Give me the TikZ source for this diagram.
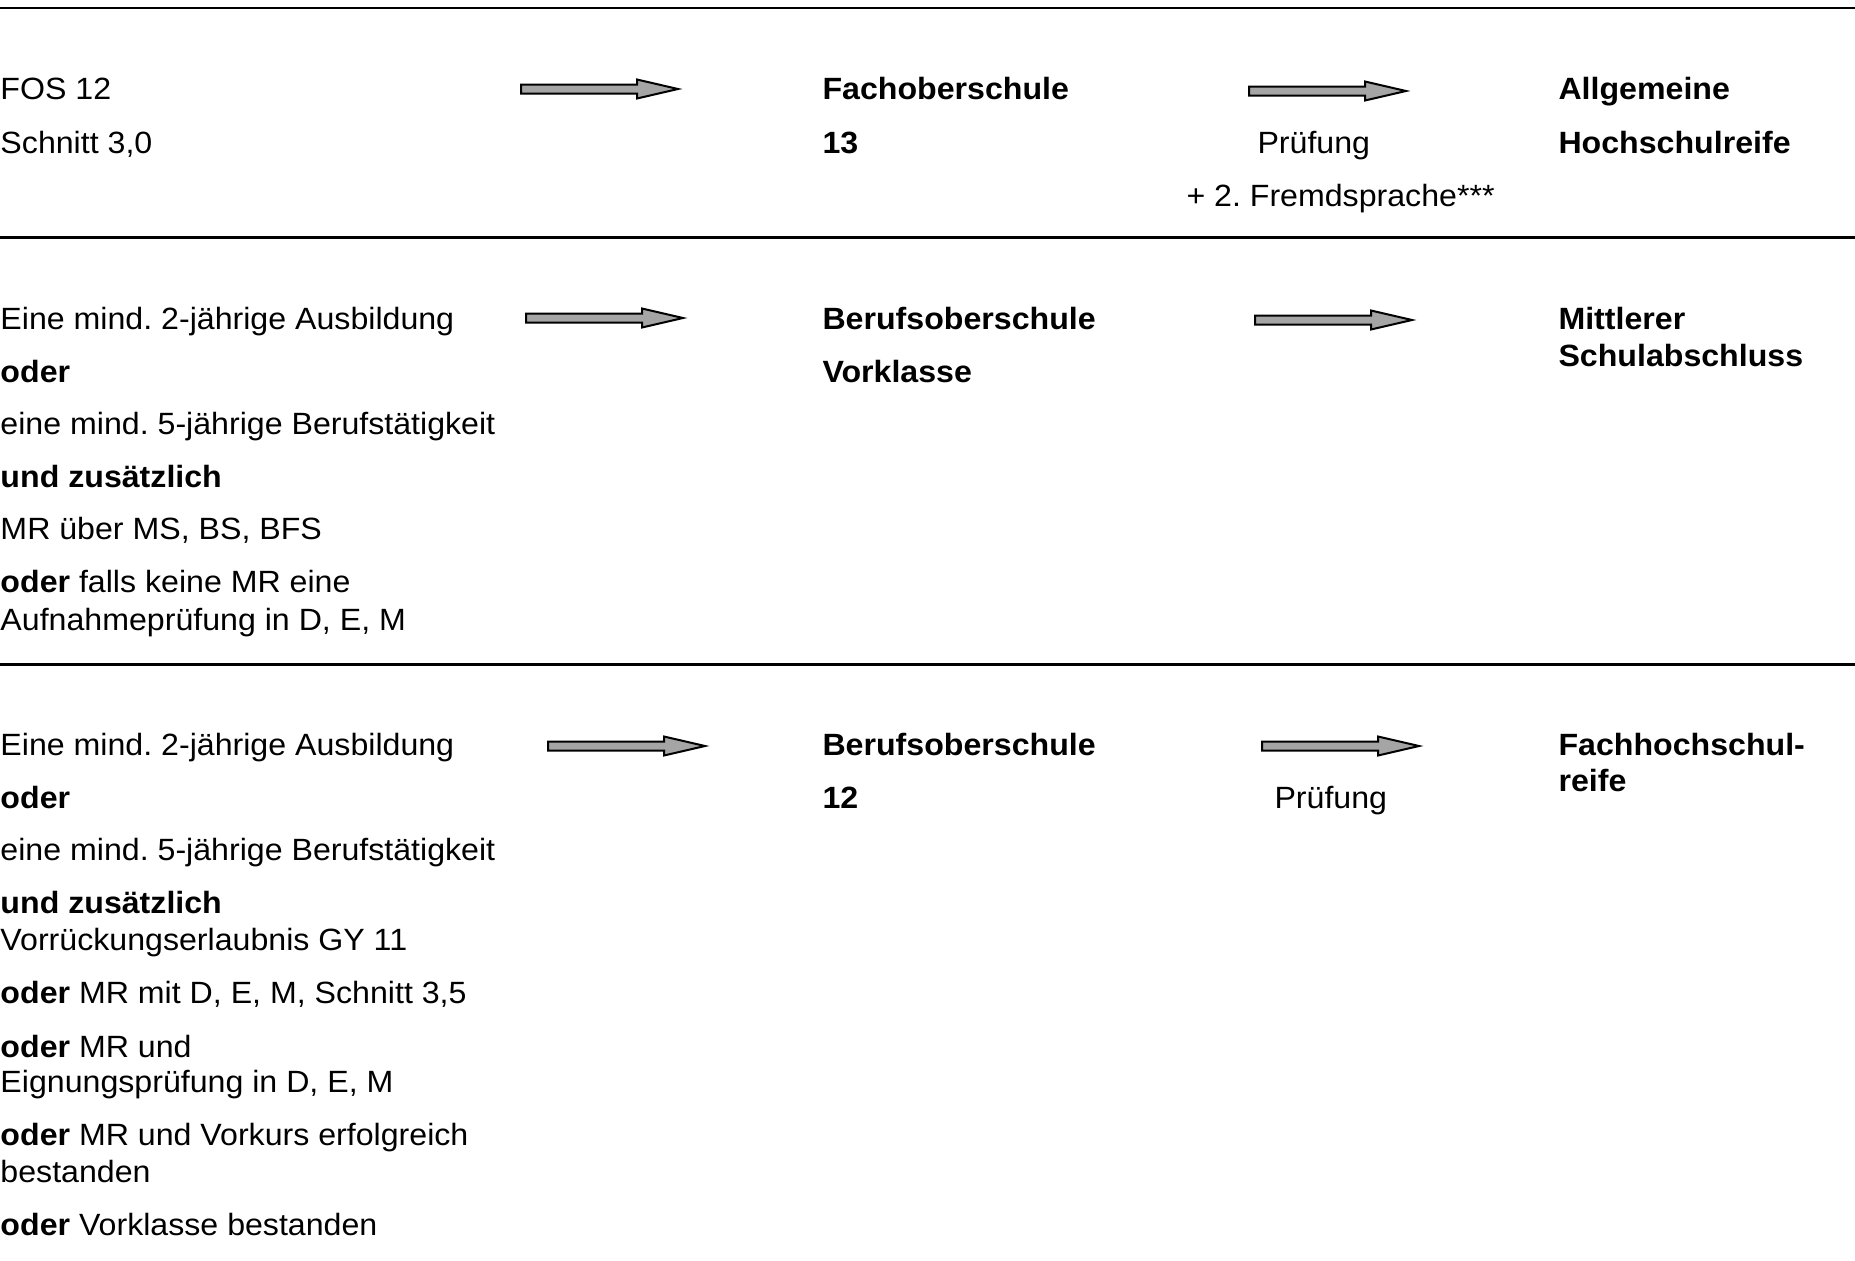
\documentclass[tikz,border=0pt]{standalone}
\usepackage{fontspec}
\setmainfont{Liberation Sans}[FakeStretch=1.045]
\frenchspacing
\definecolor{arrowgray}{RGB}{165,165,165}
\tikzset{
    txt/.style={anchor=base west, inner sep=0pt, font=\fontsize{12.3}{14}\selectfont},
    head/.style={txt, font=\fontsize{12.3}{14}\selectfont\bfseries},
    rule/.style={line width=1.2pt},
    grayarrow/.pic={
        \draw[fill=arrowgray, line width=0.8pt, line join=miter]
            (0,-4.5) -- (116,-4.5) -- (116,-9.5) -- (157,0) -- (116,9.5) -- (116,4.5) -- (0,4.5) -- cycle;
    }
}
\begin{document}
\begin{tikzpicture}[x=0.4pt, y=-0.4pt]
    \useasboundingbox (0,0) rectangle (1855,1261);

    % separating rules
    \draw[rule, line width=0.8pt] (0,8) -- (1855,8);
    \draw[rule] (0,237) -- (1855,237);
    \draw[rule] (0,664) -- (1855,664);

    % row 1
    \node[txt] (fos) at (0,99) {FOS 12};
    \node[txt] (fosavg) at (0,153) {Schnitt 3,0};
    \node[head] (fosname) at (822,99) {Fachoberschule};
    \node[head] (fosclass) at (822,153) {13};
    \node[txt] (fosexam) at (1257,153) {Prüfung};
    \node[txt] (foslang) at (1186,206) {+ 2. Fremdsprache***};
    \node[head] (ahr) at (1558,99) {Allgemeine};
    \node[head] (ahrb) at (1558,153) {Hochschulreife};

    % row 2
    \foreach \yy/\txt [count=\i] in {
        329/{Eine mind. 2-jährige Ausbildung},
        382/{\textbf{oder}},
        434/{eine mind. 5-jährige Berufstätigkeit},
        487/{\textbf{und zusätzlich}},
        539/{MR über MS, BS, BFS},
        592/{\textbf{oder} falls keine MR eine},
        630/{Aufnahmeprüfung in D, E, M}}
        \node[txt] (vk\i) at (0,\yy) {\txt};
    \node[head] (vkname) at (822,329) {Berufsoberschule};
    \node[head] (vkclass) at (822,382) {Vorklasse};
    \node[head] (msa) at (1558,329) {Mittlerer};
    \node[head] (msab) at (1558,366) {Schulabschluss};

    % row 3
    \foreach \yy/\txt [count=\i] in {
        755/{Eine mind. 2-jährige Ausbildung},
        808/{\textbf{oder}},
        860/{eine mind. 5-jährige Berufstätigkeit},
        913/{\textbf{und zusätzlich}},
        950/{Vorrückungserlaubnis GY 11},
        1003/{\textbf{oder} MR mit D, E, M, Schnitt 3,5},
        1057/{\textbf{oder} MR und},
        1092/{Eignungsprüfung in D, E, M},
        1145/{\textbf{oder} MR und Vorkurs erfolgreich},
        1182/{bestanden},
        1235/{\textbf{oder} Vorklasse bestanden}}
        \node[txt] (bos\i) at (0,\yy) {\txt};
    \node[head] (bosname) at (822,755) {Berufsoberschule};
    \node[head] (bosclass) at (822,808) {12};
    \node[txt] (bosexam) at (1274,808) {Prüfung};
    \node[head] (fhr) at (1558,755) {Fachhochschul-};
    \node[head] (fhrb) at (1558,791) {reife};

    % block arrows
    \coordinate (fosin) at (521,89);
    \coordinate (fosout) at (1249,91);
    \coordinate (vkin) at (526,318);
    \coordinate (vkout) at (1255,320);
    \coordinate (bosin) at (548,746);
    \coordinate (bosout) at (1262,746);
    \foreach \c in {fosin, fosout, vkin, vkout, bosin, bosout}
        \pic at (\c) {grayarrow};
\end{tikzpicture}
\end{document}
